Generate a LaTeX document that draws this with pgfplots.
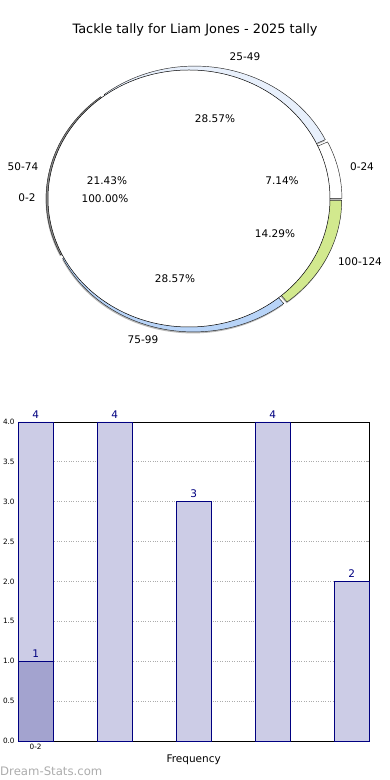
\documentclass[border=0pt]{standalone}
\usepackage{pgfplots}
\pgfplotsset{compat=1.18}
\usepackage{fontspec}
\setmainfont{DejaVu Sans}
\definecolor{barlight}{HTML}{CCCCE6}
\definecolor{bardark}{HTML}{A3A3CF}
\definecolor{navyc}{HTML}{000080}
\definecolor{pieA}{HTML}{FFFFFF}
\definecolor{pieB}{HTML}{E8F0FC}
\definecolor{pieC}{HTML}{8A8A8A}
\definecolor{pieD}{HTML}{B8D4F8}
\definecolor{pieE}{HTML}{D2E98E}
\begin{document}
\begin{tikzpicture}[x=1pt,y=1pt]
\useasboundingbox (0,0) rectangle (390,780);
% ---------- pie ----------
\begin{axis}[at={(0,390)}, anchor=south west, scale only axis,
  width=390pt, height=390pt, xmin=0, xmax=390, ymin=0, ymax=390,
  hide axis, clip=false]
% shadows
\fill[gray!55] (axis cs:193.5,189.5) ++(12.857:3pt) -- ++(0:145pt and 130pt) arc[start angle=0, end angle=25.714, x radius=145pt, y radius=130pt] -- cycle;
\fill[gray!55] (axis cs:193.5,189.5) ++(77.143:3pt) -- ++(25.714:145pt and 130pt) arc[start angle=25.714, end angle=128.571, x radius=145pt, y radius=130pt] -- cycle;
\fill[gray!55] (axis cs:193.5,189.5) ++(167.143:3pt) -- ++(128.571:145pt and 130pt) arc[start angle=128.571, end angle=205.714, x radius=145pt, y radius=130pt] -- cycle;
\fill[gray!55] (axis cs:193.5,189.5) ++(257.143:3pt) -- ++(205.714:145pt and 130pt) arc[start angle=205.714, end angle=308.571, x radius=145pt, y radius=130pt] -- cycle;
\fill[gray!55] (axis cs:193.5,189.5) ++(334.286:3pt) -- ++(308.571:145pt and 130pt) arc[start angle=308.571, end angle=360, x radius=145pt, y radius=130pt] -- cycle;
% slices: 0-24 (1), 25-49 (4), 50-74 (3), 75-99 (4), 100-124 (2)
\filldraw[fill=pieA, draw=black!85, line width=0.45pt] (axis cs:194,191) ++(12.857:3pt) -- ++(0:145pt and 130pt) arc[start angle=0, end angle=25.714, x radius=145pt, y radius=130pt] -- cycle;
\filldraw[fill=pieB, draw=black!85, line width=0.45pt] (axis cs:194,191) ++(77.143:3pt) -- ++(25.714:145pt and 130pt) arc[start angle=25.714, end angle=128.571, x radius=145pt, y radius=130pt] -- cycle;
\filldraw[fill=pieC, draw=black!85, line width=0.45pt] (axis cs:194,191) ++(167.143:3pt) -- ++(128.571:145pt and 130pt) arc[start angle=128.571, end angle=205.714, x radius=145pt, y radius=130pt] -- cycle;
\filldraw[fill=pieD, draw=black!85, line width=0.45pt] (axis cs:194,191) ++(257.143:3pt) -- ++(205.714:145pt and 130pt) arc[start angle=205.714, end angle=308.571, x radius=145pt, y radius=130pt] -- cycle;
\filldraw[fill=pieE, draw=black!85, line width=0.45pt] (axis cs:194,191) ++(334.286:3pt) -- ++(308.571:145pt and 130pt) arc[start angle=308.571, end angle=360, x radius=145pt, y radius=130pt] -- cycle;
% 0-2 : 100%
\filldraw[fill=white, draw=black, line width=0.5pt] (axis cs:189,191.5) ellipse[x radius=141pt, y radius=128.5pt];
% labels
\node[font=\fontsize{12.9}{14}\selectfont] at (axis cs:195,360) {Tackle tally for Liam Jones - 2025 tally};
\begin{scope}[every node/.style={font=\fontsize{10.5}{12}\selectfont, inner sep=0pt}]
\node at (axis cs:245,333) {25-49};
\node at (axis cs:362,223) {0-24};
\node at (axis cs:360,128) {100-124};
\node at (axis cs:143,50) {75-99};
\node at (axis cs:23,223) {50-74};
\node at (axis cs:27,192) {0-2};
\node at (axis cs:215,271) {28.57\%};
\node at (axis cs:282,209) {7.14\%};
\node at (axis cs:275,156) {14.29\%};
\node at (axis cs:175,111) {28.57\%};
\node at (axis cs:107,209) {21.43\%};
\node at (axis cs:105,191) {100.00\%};
\end{scope}
\end{axis}
% ---------- bars ----------
\begin{axis}[at={(23,49)}, anchor=south west, scale only axis,
  width=351pt, height=319pt,
  xmin=-0.2215, xmax=4.2215, ymin=0, ymax=4,
  ybar, bar width=0.443, bar shift=0pt,
  xtick={0}, xticklabels={0-2},
  ytick={0,0.5,1,1.5,2,2.5,3,3.5,4},
  yticklabel style={/pgf/number format/.cd, fixed, fixed zerofill, precision=1},
  /pgf/number format/assume math mode=true,
  ticklabel style={font=\fontsize{7.3}{8}\selectfont},
  ytick pos=both, xtick pos=bottom, tick align=inside,
  major tick length=3pt,
  tick style={gray!70, line width=0.8pt},
  xmajorgrids, ymajorgrids,
  grid style={dotted, gray!65, line width=0.7pt},
  axis line style={black, line width=0.8pt},
  xlabel={Frequency},
  xlabel style={font=\fontsize{10.5}{12}\selectfont, at={(axis description cs:0.5,0)}, anchor=center, yshift=-19pt},
  nodes near coords,
  nodes near coords style={font=\fontsize{10.5}{12}\selectfont, text=navyc, anchor=south, inner sep=0pt, yshift=3.5pt},
  clip=false]
\addplot[fill=barlight, draw=navyc, line width=0.7pt] coordinates {(0,4) (1,4) (2,3) (3,4) (4,2)};
\addplot[fill=bardark, draw=navyc, line width=0.7pt] coordinates {(0,1)};
\end{axis}
\node[anchor=west, text=gray!65, font=\fontsize{11.7}{13}\selectfont, inner sep=0pt] at (0,9) {Dream-Stats.com};
\end{tikzpicture}
\end{document}
